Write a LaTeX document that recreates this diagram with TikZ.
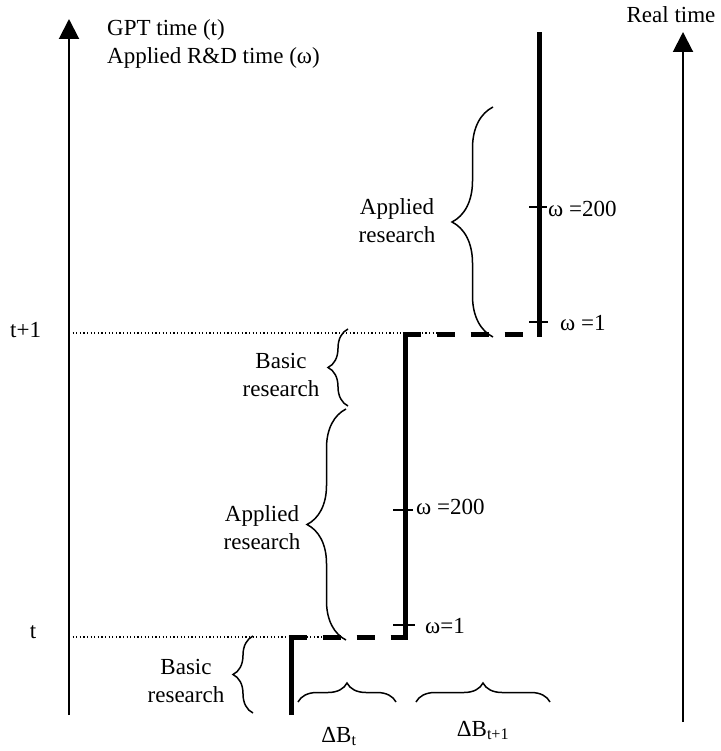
\documentclass[tikz,border=0pt]{standalone}
\usepackage{fontspec}
\setmainfont{Liberation Serif}
\usetikzlibrary{arrows.meta,decorations.pathreplacing}
\tikzset{
  timeaxis/.style={-{Triangle[width=20pt,length=20pt]}, line width=2pt},
  stair/.style={line width=5pt},
  stairdash/.style={line width=5pt, dash pattern=on 18pt off 16pt},
  guide/.style={line width=1.2pt, dash pattern=on 1.2pt off 2.4pt},
  tickmark/.style={line width=1.5pt},
  curly/.style={decorate, decoration={brace, amplitude=#1}, line width=1.5pt},
  lbl/.style={font=\fontsize{23}{28}\selectfont, inner sep=0pt, align=center}
}

\begin{document}
\begin{tikzpicture}[x=1pt, y=-1pt]
  \useasboundingbox (0,0) rectangle (720,751);

  % the two time axes
  \coordinate (gbot) at (69,715);
  \coordinate (gtop) at (69,19);
  \coordinate (rbot) at (683,722);
  \coordinate (rtop) at (683,32);
  \draw[timeaxis] (gbot) -- (gtop);
  \draw[timeaxis] (rbot) -- (rtop);

  \node[lbl, anchor=base west] (gpt) at (107,36) {GPT time (t)};
  \node[lbl, anchor=base west] (appt) at (107,64) {Applied R\&D time (ω)};
  \node[lbl, anchor=base] (real) at (671,23) {Real time};
  \node[lbl, anchor=base west] (tnext) at (10,337) {t+1};
  \node[lbl, anchor=base] (tnow) at (33,638) {t};

  % guide lines at t and t+1
  \coordinate (g1) at (69,637);
  \coordinate (g1e) at (330,637);
  \coordinate (g2) at (69,333);
  \coordinate (g2e) at (440,333);
  \draw[guide] (g1) -- (g1e);
  \draw[guide] (g2) -- (g2e);

  % staircase
  \coordinate (s0) at (291,715);
  \coordinate (s1) at (291,637);
  \coordinate (s2) at (405,637);
  \coordinate (s3) at (405,334);
  \coordinate (s4) at (539,334);
  \coordinate (s5) at (539,32);
  \draw[stair] (s0) -- (s1);
  \draw[stairdash] ([xshift=-2.5pt]s1) -- (s2);
  \draw[stair] ([yshift=-2.5pt]s2) -- (s3);
  \draw[stairdash] ([xshift=-2.5pt]s3) -- (s4);
  \draw[stair] ([yshift=-2.5pt]s4) -- (s5);

  % omega marks
  \coordinate (m1a) at (393,625);  \coordinate (m1b) at (415,625);
  \coordinate (m2a) at (393,510);  \coordinate (m2b) at (413,510);
  \coordinate (m3a) at (529,322);  \coordinate (m3b) at (548,322);
  \coordinate (m4a) at (529,207);  \coordinate (m4b) at (547,207);
  \draw[tickmark] (m1a) -- (m1b);
  \draw[tickmark] (m2a) -- (m2b);
  \draw[tickmark] (m3a) -- (m3b);
  \draw[tickmark] (m4a) -- (m4b);
  \node[lbl, anchor=base west] (w1) at (425,633) {ω=1};
  \node[lbl, anchor=base west] (w2) at (416,514) {ω =200};
  \node[lbl, anchor=base west] (w3) at (560,330) {ω =1};
  \node[lbl, anchor=base west] (w4) at (548,217) {ω =200};

  % phases
  \draw[curly=20pt] (253,713) -- (253,636);
  \draw[curly=39pt] (346,640) -- (346,409);
  \draw[curly=20pt] (348,406) -- (348,329);
  \draw[curly=41pt] (493,337) -- (493,107);
  \node[lbl] (basic1) at (186,681) {Basic\\research};
  \node[lbl] (appl1) at (262,528) {Applied\\research};
  \node[lbl] (basic2) at (281,375) {Basic\\research};
  \node[lbl] (appl2) at (397,221) {Applied\\research};

  % increments
  \draw[curly=19pt] (298,702) -- (396,702);
  \draw[curly=19pt] (416,702) -- (550,702);
  \node[lbl, anchor=base] (dbt) at (339,742) {ΔB\textsubscript{t}};
  \node[lbl, anchor=base] (dbt1) at (483,736) {ΔB\textsubscript{t+1}};
\end{tikzpicture}
\end{document}
